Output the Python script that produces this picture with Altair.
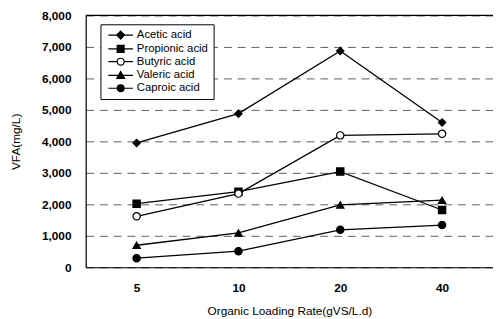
import altair as alt
import pandas as pd

rates = ["5", "10", "20", "40"]
acids = ["Acetic acid", "Propionic acid", "Butyric acid", "Valeric acid", "Caproic acid"]
acetic = [3950, 4880, 6870, 4600]
propionic = [2020, 2400, 3040, 1820]
butyric = [1620, 2340, 4190, 4240]
valeric = [700, 1090, 1980, 2130]
caproic = [290, 510, 1190, 1340]
y_top = [8000]

series = [acetic, propionic, butyric, valeric, caproic]
rows = []
for name, vals in zip(acids, series):
    for r, v in zip(rates, vals):
        rows.append({"rate": r, "acid": name, "vfa": v})
df = pd.DataFrame(rows)

FONT = "Liberation Sans"
shapes = ["diamond", "square", "circle", "triangle-up", "circle"]
fills = ["black", "black", "white", "black", "black"]
strokes = ["black"] * 5
legend_shapes = [
    "M-0.6,0H4.4M1.9,-0.8L2.7,0L1.9,0.8L1.1,0Z",
    "M-0.6,0H4.4M1.2,-0.7H2.6V0.7H1.2Z",
    "M-0.6,0H1.2M2.6,0H4.4M2.6,0A0.7,0.7 0 1,1 1.2,0A0.7,0.7 0 1,1 2.6,0Z",
    "M-0.6,0H4.4M1.9,-0.8L2.7,0.6H1.1Z",
    "M-0.6,0H4.4M2.6,0A0.7,0.7 0 1,1 1.2,0A0.7,0.7 0 1,1 2.6,0Z",
]

yscale = alt.Scale(domain=[0, 8000], nice=False)

x_enc = alt.X("rate:O", sort=rates, scale=alt.Scale(type="point", padding=0.5),
              axis=alt.Axis(title="Organic Loading Rate(gVS/L.d)", labelAngle=0,
                            labelFont=FONT, labelFontSize=12, labelFontWeight="bold",
                            labelColor="black", labelPadding=16, ticks=False, tickSize=0,
                            domainColor="black", domainWidth=1.2, grid=False,
                            titleFont=FONT, titleFontSize=12, titleFontWeight="normal",
                            titleColor="black", titlePadding=12))
y_axis = alt.Axis(title="VFA(mg/L)", values=list(range(0, 8001, 1000)), format=",d",
                  labelFont=FONT, labelFontSize=12, labelFontWeight="bold",
                  labelColor="black", labelPadding=15, ticks=False, tickSize=0,
                  domainColor="black", domainWidth=1.2,
                  grid=True, gridColor="#333333", gridDash=[8, 6], gridWidth=0.8,
                  titleFont=FONT, titleFontSize=12, titleFontWeight="normal",
                  titleColor="black", titlePadding=19)
y_enc = alt.Y("vfa:Q", scale=yscale, axis=y_axis)

base = alt.Chart(df)

lines = base.mark_line(color="black", strokeWidth=1.3).encode(
    x=x_enc, y=y_enc, detail="acid:N")

points = base.mark_point(filled=True, size=55, stroke="black", strokeWidth=1.2, opacity=1).encode(
    x=x_enc, y=y_enc,
    shape=alt.Shape("acid:N", scale=alt.Scale(domain=acids, range=shapes), legend=None),
    fill=alt.Fill("acid:N", scale=alt.Scale(domain=acids, range=fills), legend=None),
)

leg = alt.Legend(title=None, orient="none", legendX=15, legendY=9,
                 strokeColor="black", fillColor="white", padding=5,
                 labelFont=FONT, labelFontSize=11.5, labelColor="black",
                 labelOffset=20, rowPadding=1, symbolSize=100,
                 symbolStrokeWidth=1.2, symbolOpacity=1)

legend_layer = base.transform_filter("false").mark_point(
    size=100, strokeWidth=1.2, opacity=1).encode(
    x=x_enc, y=y_enc,
    shape=alt.Shape("acid:N", scale=alt.Scale(domain=acids, range=legend_shapes), legend=leg),
    fill=alt.Fill("acid:N", scale=alt.Scale(domain=acids, range=fills), legend=leg),
    stroke=alt.Stroke("acid:N", scale=alt.Scale(domain=acids, range=strokes), legend=leg),
)

top_line = alt.Chart(pd.DataFrame({"vfa": y_top})).mark_rule(color="black", strokeWidth=1.2).encode(
    y=y_enc)

chart = alt.layer(lines, points, legend_layer, top_line).resolve_scale(
    shape="independent", fill="independent", stroke="independent"
).properties(
    width=414, height=256,
    autosize=alt.AutoSizeParams(type="none"),
    padding={"left": 79, "top": 5, "right": 0, "bottom": 50},
).configure_view(stroke=None).configure(background="white")

chart.save("out.html", embed_options={"renderer": "svg", "actions": False})
